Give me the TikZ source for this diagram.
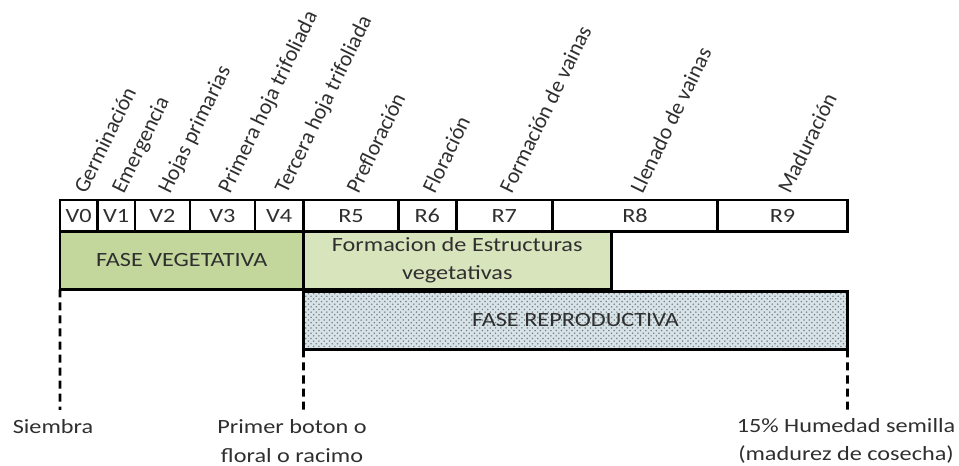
\documentclass[tikz,border=0pt]{standalone}
\usepackage{fontspec}
\setmainfont{Carlito}[FakeStretch=1.2]
\newfontfamily\rotfont{Carlito}
\usetikzlibrary{patterns}
\definecolor{vegverde}{HTML}{C3D69B}
\definecolor{estverde}{HTML}{D8E4BC}
\definecolor{repazul}{HTML}{D6E4E9}
\definecolor{texto}{HTML}{2F2F2F}
\tikzset{
  etapa/.style={draw,line width=1.7pt,minimum height=0.63cm,inner sep=0pt,outer sep=0pt,text=texto},
  rotulo/.style={rotate=64,anchor=base west,inner sep=0pt,text=texto,font=\rotfont\fontsize{12.5}{15}\selectfont},
  fase/.style={draw,line width=1.7pt,minimum height=1.16cm,inner sep=0pt,outer sep=0pt,text=texto,align=center},
  limite/.style={line width=1.5pt,dash pattern=on 0.16cm off 0.1cm},
  hito/.style={text=texto,align=center,inner sep=0pt}
}
\begin{document}
\begin{tikzpicture}[font=\fontsize{11.5}{16}\selectfont]
            \useasboundingbox (0,0) rectangle (19.18,9.30);
            % etapas
            \node[etapa,minimum width=0.75cm] (v0) at (1.575,4.985) {V0};
            \node[etapa,minimum width=0.75cm] (v1) at (2.325,4.985) {V1};
            \node[etapa,minimum width=1.10cm] (v2) at (3.25,4.985) {V2};
            \node[etapa,minimum width=1.30cm] (v3) at (4.45,4.985) {V3};
            \node[etapa,minimum width=0.97cm] (v4) at (5.585,4.985) {V4};
            \node[etapa,minimum width=1.90cm] (r5) at (7.02,4.985) {R5};
            \node[etapa,minimum width=1.15cm] (r6) at (8.545,4.985) {R6};
            \node[etapa,minimum width=1.93cm] (r7) at (10.085,4.985) {R7};
            \node[etapa,minimum width=3.30cm] (r8) at (12.70,4.985) {R8};
            \node[etapa,minimum width=2.60cm] (r9) at (15.65,4.985) {R9};
            % rotulos
            \node[rotulo] (germ) at ([xshift=0.15cm,yshift=0.1cm]v0.north) {Germinación};
            \node[rotulo] (emer) at ([xshift=0.15cm,yshift=0.1cm]v1.north) {Emergencia};
            \node[rotulo] (hojas) at ([xshift=0.15cm,yshift=0.1cm]v2.north) {Hojas primarias};
            \node[rotulo] (primera) at ([xshift=0.15cm,yshift=0.1cm]v3.north) {Primera hoja trifoliada};
            \node[rotulo] (tercera) at ([xshift=0.15cm,yshift=0.1cm]v4.north) {Tercera hoja trifoliada};
            \node[rotulo] (preflor) at ([xshift=0.15cm,yshift=0.1cm]r5.north) {Prefloración};
            \node[rotulo] (flor) at ([xshift=0.15cm,yshift=0.1cm]r6.north) {Floración};
            \node[rotulo] (formvain) at ([xshift=0.15cm,yshift=0.1cm]r7.north) {Formación de vainas};
            \node[rotulo] (llenvain) at ([xshift=0.15cm,yshift=0.1cm]r8.north) {Llenado de vainas};
            \node[rotulo] (madur) at ([xshift=0.15cm,yshift=0.1cm]r9.north) {Maduración};
            % fases
            \node[fase,fill=vegverde,minimum width=4.87cm] (fasveg) at (3.635,4.09) {FASE VEGETATIVA};
            \node[fase,fill=estverde,minimum width=6.15cm] (formest) at (9.145,4.09) {Formacion de Estructuras\\vegetativas};
            \node[fase,preaction={fill=repazul},pattern=crosshatch dots,pattern color=gray,minimum width=10.88cm] (fasrep) at (11.51,2.89) {FASE REPRODUCTIVA};
            % limites
            \coordinate (finsiem) at (1.20,1.10);
            \coordinate (finboton) at (6.07,1.10);
            \coordinate (finhum) at (16.95,1.10);
            \draw[limite] (fasveg.south west) -- (finsiem);
            \draw[limite] (fasrep.south west) -- (finboton);
            \draw[limite] (fasrep.south east) -- (finhum);
            \node[hito] (siembra) at (1.06,0.76) {Siembra};
            \node[hito] (boton) at (5.84,0.48) {Primer boton o\\floral o racimo};
            \node[hito] (humedad) at (16.92,0.48) {15\% Humedad semilla\\(madurez de cosecha)};
        \end{tikzpicture}
\end{document}
